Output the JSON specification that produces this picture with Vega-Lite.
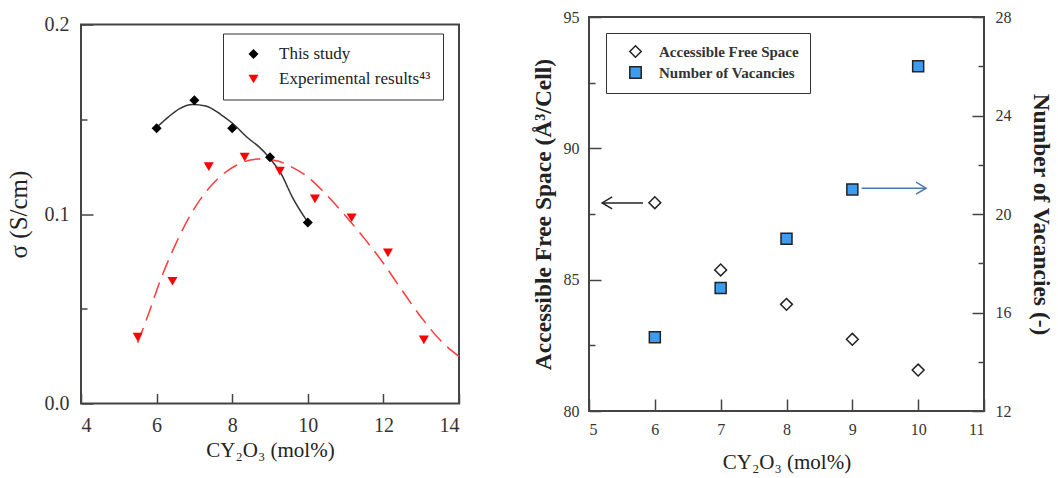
{
  "$schema": "https://vega.github.io/schema/vega-lite/v6.json",
  "background": "white",
  "padding": {"left": 5, "top": 8, "right": 5, "bottom": 5},
  "config": {
    "view": {"stroke": "#444", "strokeWidth": 2},
    "axis": {"grid": false, "domain": false, "tickColor": "#444", "tickWidth": 1.5, "labelColor": "#333", "titleColor": "#222", "labelFont": "Liberation Serif", "titleFont": "Liberation Serif"}
  },
  "datasets": {
    "blackFit": [
      {"x": 6.05, "y": 0.1466}, {"x": 6.3, "y": 0.151}, {"x": 6.6, "y": 0.1555}, {"x": 6.95, "y": 0.1578},
      {"x": 7.3, "y": 0.157}, {"x": 7.7, "y": 0.1525}, {"x": 8.0, "y": 0.148}, {"x": 8.44, "y": 0.1397},
      {"x": 8.71, "y": 0.1354}, {"x": 8.97, "y": 0.130}, {"x": 9.3, "y": 0.121}, {"x": 9.59, "y": 0.1089},
      {"x": 10.0, "y": 0.0957}
    ],
    "redFit": [
      {"x": 5.5, "y": 0.032}, {"x": 5.8, "y": 0.048}, {"x": 6.1, "y": 0.065}, {"x": 6.5, "y": 0.084},
      {"x": 7.0, "y": 0.103}, {"x": 7.4, "y": 0.114}, {"x": 8.1, "y": 0.1256}, {"x": 8.7, "y": 0.129},
      {"x": 9.2, "y": 0.128}, {"x": 9.5, "y": 0.1255}, {"x": 10.0, "y": 0.1195}, {"x": 10.5, "y": 0.110},
      {"x": 11.0, "y": 0.099}, {"x": 11.5, "y": 0.087}, {"x": 12.0, "y": 0.074}, {"x": 12.5, "y": 0.0595},
      {"x": 13.0, "y": 0.0455}, {"x": 13.5, "y": 0.0335}, {"x": 14.0, "y": 0.0248}
    ],
    "leftPts": [
      {"x": 6, "y": 0.1453, "series": "This study"},
      {"x": 7, "y": 0.160, "series": "This study"},
      {"x": 8, "y": 0.1453, "series": "This study"},
      {"x": 9, "y": 0.130, "series": "This study"},
      {"x": 10, "y": 0.0955, "series": "This study"},
      {"x": 5.5, "y": 0.035, "series": "Experimental results⁴³"},
      {"x": 6.42, "y": 0.0645, "series": "Experimental results⁴³"},
      {"x": 7.38, "y": 0.125, "series": "Experimental results⁴³"},
      {"x": 8.33, "y": 0.130, "series": "Experimental results⁴³"},
      {"x": 9.26, "y": 0.1226, "series": "Experimental results⁴³"},
      {"x": 10.19, "y": 0.108, "series": "Experimental results⁴³"},
      {"x": 11.16, "y": 0.098, "series": "Experimental results⁴³"},
      {"x": 12.12, "y": 0.0795, "series": "Experimental results⁴³"},
      {"x": 13.07, "y": 0.0336, "series": "Experimental results⁴³"}
    ],
    "afs": [
      {"x": 6, "y": 87.93, "series": "Accessible Free Space"},
      {"x": 7, "y": 85.37, "series": "Accessible Free Space"},
      {"x": 8, "y": 84.06, "series": "Accessible Free Space"},
      {"x": 9, "y": 82.73, "series": "Accessible Free Space"},
      {"x": 10, "y": 81.56, "series": "Accessible Free Space"}
    ],
    "nv": [
      {"x": 6, "y": 15, "series": "Number of Vacancies"},
      {"x": 7, "y": 17, "series": "Number of Vacancies"},
      {"x": 8, "y": 19, "series": "Number of Vacancies"},
      {"x": 9, "y": 21, "series": "Number of Vacancies"},
      {"x": 10, "y": 26, "series": "Number of Vacancies"}
    ],
    "arrowLeft": [{"x": 5.82, "x2": 5.2, "y": 87.92}],
    "arrowRight": [{"x": 9.14, "x2": 10.12, "y": 21.05}]
  },
  "resolve": {"scale": {"color": "independent", "shape": "independent"}, "legend": {"color": "independent", "shape": "independent"}},
  "spacing": 130,
  "bounds": "flush",
  "center": true,
  "hconcat": [
    {
      "width": 378,
      "height": 379,
      "layer": [
        {
          "data": {"name": "blackFit"},
          "mark": {"type": "line", "color": "#333", "strokeWidth": 1.5, "interpolate": "monotone"},
          "encoding": {
            "x": {"field": "x", "type": "quantitative", "scale": {"domain": [4, 14], "nice": false, "zero": false},
              "axis": {"values": [4, 5, 6, 7, 8, 9, 10, 11, 12, 13, 14], "labelExpr": "datum.value % 2 == 0 ? datum.label : ''",
                "tickSize": {"condition": {"test": "datum.value % 2 == 0", "value": -10}, "value": -5},
                "labelFontSize": 20, "labelPadding": 22, "title": "CY₂O₃ (mol%)", "titleFontSize": 21, "titleFontWeight": "normal", "titlePadding": 4}},
            "y": {"field": "y", "type": "quantitative", "scale": {"domain": [0, 0.2], "nice": false},
              "axis": {"values": [0, 0.05, 0.1, 0.15, 0.2], "format": ".1f", "labelExpr": "datum.value * 100 % 10 < 0.01 || datum.value * 100 % 10 > 9.99 ? datum.label : ''",
                "tickSize": {"condition": {"test": "datum.value * 100 % 10 < 0.01 || datum.value * 100 % 10 > 9.99", "value": -12}, "value": -6},
                "labelFontSize": 20, "labelPadding": 24, "title": "σ (S/cm)", "titleFontSize": 25, "titleFontWeight": "normal", "titlePadding": 13}}
          }
        },
        {
          "data": {"name": "redFit"},
          "mark": {"type": "line", "color": "#ff3b3b", "strokeWidth": 1.5, "strokeDash": [16, 8], "interpolate": "monotone"},
          "encoding": {
            "x": {"field": "x", "type": "quantitative"},
            "y": {"field": "y", "type": "quantitative"}
          }
        },
        {
          "data": {"name": "leftPts"},
          "mark": {"type": "point", "filled": true, "size": 100, "opacity": 1},
          "encoding": {
            "x": {"field": "x", "type": "quantitative"},
            "y": {"field": "y", "type": "quantitative"},
            "color": {"field": "series", "type": "nominal",
              "scale": {"domain": ["This study", "Experimental results⁴³"], "range": ["#000000", "#ff0000"]},
              "legend": {"orient": "none", "legendX": 142, "legendY": 9, "title": null, "strokeColor": "#333", "fillColor": "white",
                "padding": 12, "labelFont": "Liberation Serif", "labelFontSize": 17, "labelColor": "#222", "symbolSize": 100,
                "rowPadding": 7, "symbolOffset": 10, "labelOffset": 17, "labelLimit": 300}},
            "shape": {"field": "series", "type": "nominal",
              "scale": {"domain": ["This study", "Experimental results⁴³"], "range": ["diamond", "triangle-down"]}}
          }
        }
      ]
    },
    {
      "width": 395,
      "height": 394,
      "resolve": {"scale": {"y": "independent"}},
      "layer": [
        {
          "layer": [
            {
              "data": {"name": "afs"},
              "mark": {"type": "point", "filled": true, "size": 140, "stroke": "#222", "strokeWidth": 1.5, "opacity": 1},
              "encoding": {
                "x": {"field": "x", "type": "quantitative", "scale": {"domain": [5, 11], "nice": false, "zero": false},
                  "axis": {"values": [5, 6, 7, 8, 9, 10, 11], "format": "d", "tickSize": -12, "labelFontSize": 16, "labelPadding": 22,
                    "title": "CY₂O₃ (mol%)", "titleFontSize": 21, "titleFontWeight": "normal", "titlePadding": 14}},
                "y": {"field": "y", "type": "quantitative", "scale": {"domain": [80, 95], "nice": false, "zero": false},
                  "axis": {"values": [80, 82.5, 85, 87.5, 90, 92.5, 95], "labelExpr": "datum.value % 5 == 0 ? datum.label : ''",
                    "tickSize": {"condition": {"test": "datum.value % 5 == 0", "value": -12}, "value": -6},
                    "labelFontSize": 16, "labelPadding": 22, "title": "Accessible Free Space (Å³/Cell)", "titleFontSize": 23.5, "titleFontWeight": "bold", "titlePadding": 8}},
                "color": {"field": "series", "type": "nominal",
                  "scale": {"domain": ["Accessible Free Space", "Number of Vacancies"], "range": ["#ffffff", "#3d9cf0"]},
                  "legend": {"orient": "none", "legendX": 17, "legendY": 16, "title": null, "strokeColor": "#333", "fillColor": "white",
                    "padding": 11, "labelFont": "Liberation Serif", "labelFontSize": 15, "labelFontWeight": "bold", "labelColor": "#333", "symbolSize": 130,
                    "symbolStrokeColor": "#222", "symbolStrokeWidth": 1.5,
                    "rowPadding": 2, "symbolOffset": 11, "labelOffset": 16, "labelLimit": 300}},
                "shape": {"field": "series", "type": "nominal",
                  "scale": {"domain": ["Accessible Free Space", "Number of Vacancies"], "range": ["diamond", "square"]}}
              }
            },
            {
              "data": {"name": "arrowLeft"},
              "mark": {"type": "rule", "color": "#222", "strokeWidth": 1.5},
              "encoding": {
                "x": {"field": "x", "type": "quantitative"},
                "x2": {"field": "x2"},
                "y": {"field": "y", "type": "quantitative"}
              }
            },
            {
              "data": {"name": "arrowLeft"},
              "mark": {"type": "point", "shape": "M 1 -0.6 L 0 0 L 1 0.6", "size": 400, "filled": false, "stroke": "#222", "strokeWidth": 1.5, "opacity": 1},
              "encoding": {
                "x": {"field": "x2", "type": "quantitative"},
                "y": {"field": "y", "type": "quantitative"}
              }
            }
          ]
        },
        {
          "layer": [
            {
              "data": {"name": "nv"},
              "mark": {"type": "point", "filled": true, "size": 121, "stroke": "#222", "strokeWidth": 1.5, "opacity": 1},
              "encoding": {
                "x": {"field": "x", "type": "quantitative"},
                "y": {"field": "y", "type": "quantitative", "scale": {"domain": [12, 28], "nice": false, "zero": false},
                  "axis": {"orient": "right", "values": [12, 14, 16, 18, 20, 22, 24, 26, 28], "labelExpr": "datum.value % 4 == 0 ? datum.label : ''",
                    "tickSize": {"condition": {"test": "datum.value % 4 == 0", "value": -12}, "value": -6},
                    "labelFontSize": 16, "labelPadding": 23, "title": "Number of Vacancies (-)", "titleFontSize": 23.5, "titleFontWeight": "bold", "titlePadding": 17}},
                "color": {"field": "series", "type": "nominal"},
                "shape": {"field": "series", "type": "nominal"}
              }
            },
            {
              "data": {"name": "arrowRight"},
              "mark": {"type": "rule", "color": "#4a78b0", "strokeWidth": 1.5},
              "encoding": {
                "x": {"field": "x", "type": "quantitative"},
                "x2": {"field": "x2"},
                "y": {"field": "y", "type": "quantitative"}
              }
            },
            {
              "data": {"name": "arrowRight"},
              "mark": {"type": "point", "shape": "M -1 -0.6 L 0 0 L -1 0.6", "size": 400, "filled": false, "stroke": "#4a78b0", "strokeWidth": 1.5, "opacity": 1},
              "encoding": {
                "x": {"field": "x2", "type": "quantitative"},
                "y": {"field": "y", "type": "quantitative"}
              }
            }
          ]
        }
      ]
    }
  ]
}
